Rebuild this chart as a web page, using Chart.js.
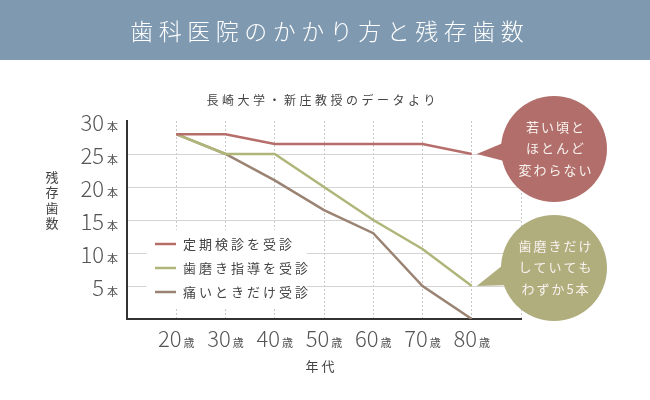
<!DOCTYPE html>
<html>
<head>
<meta charset="utf-8">
<script src="https://cdn.jsdelivr.net/npm/chart.js@4"></script>
<style>
  html, body { margin: 0; padding: 0; background: #fff; }
  canvas { display: block; }
</style>
</head>
<body>
<canvas id="chart" width="650" height="400"></canvas>
<script>
// data (長崎大学・新庄教授のデータ)
const ages = [20, 30, 40, 50, 60, 70, 80];
const regularCheckup = [28, 28, 26.5, 26.5, 26.5, 26.5, 25];
const brushingGuide = [28, 25, 25, 20, 15, 10.6, 5];
const onlyWhenPain = [28, 25, 21, 16.5, 13, 5, 0];
const seriesNames = ['定期検診を受診', '歯磨き指導を受診', '痛いときだけ受診'];
const seriesColors = ['#b66e6a', '#b0b679', '#9a8372'];
const yTicks = [5, 10, 15, 20, 25, 30];

const JP = '"Noto Sans CJK JP", "Noto Sans", sans-serif';

// draw text one char at a time so we get letter spacing
function spaced(ctx, str, x, y, gap, align) {
  const chars = Array.from(str);
  let total = 0;
  chars.forEach(c => total += ctx.measureText(c).width);
  total += gap * (chars.length - 1);
  let cx = align === 'center' ? x - total / 2 : align === 'right' ? x - total : x;
  ctx.textAlign = 'left';
  chars.forEach(c => {
    ctx.fillText(c, cx, y);
    cx += ctx.measureText(c).width + gap;
  });
}

const decorations = {
  id: 'decorations',
  beforeDatasetsDraw(chart) {
    const ctx = chart.ctx;
    const x = chart.scales.x, y = chart.scales.y;
    // white box behind the legend hides the grid
    ctx.save();
    ctx.fillStyle = '#fff';
    ctx.fillRect(x.getPixelForValue(14), y.getPixelForValue(13.5), 160, 78);
    ctx.restore();
  },
  afterDraw(chart) {
    const ctx = chart.ctx;
    const xs = chart.scales.x, ys = chart.scales.y;
    ctx.save();

    // header band
    ctx.fillStyle = '#7f99b1';
    ctx.fillRect(0, 0, 650, 60);
    ctx.fillStyle = '#fff';
    ctx.font = '300 23px ' + JP;
    ctx.textBaseline = 'middle';
    spaced(ctx, '歯科医院のかかり方と残存歯数', 327, 31, 5.5, 'center');

    // subtitle
    ctx.fillStyle = '#444';
    ctx.font = '12px ' + JP;
    spaced(ctx, '長崎大学・新庄教授のデータより', 321, 100, 3.5, 'center');

    // y axis title, stacked vertically
    ctx.font = '13px ' + JP;
    ctx.fillStyle = '#444';
    Array.from('残存歯数').forEach((c, i) => {
      ctx.textAlign = 'center';
      ctx.fillText(c, 52, 177 + i * 15.5);
    });

    // y tick labels: big number + small 本
    ctx.textBaseline = 'alphabetic';
    ctx.fillStyle = '#555';
    yTicks.forEach(v => {
      const py = ys.getPixelForValue(v) + 10;
      ctx.font = '11px ' + JP;
      ctx.textAlign = 'right';
      ctx.fillText('本', 118, py);
      ctx.font = '300 22px ' + JP;
      ctx.fillText(String(v), 104, py);
    });

    // x tick labels: number + small 歳
    ages.forEach(a => {
      const px = xs.getPixelForValue(a);
      ctx.font = '300 22px ' + JP;
      const nw = ctx.measureText(String(a)).width;
      ctx.font = '11px ' + JP;
      const sw = ctx.measureText('歳').width;
      const left = px - (nw + 2 + sw) / 2;
      ctx.textAlign = 'left';
      ctx.font = '300 22px ' + JP;
      ctx.fillText(String(a), left, 347);
      ctx.font = '11px ' + JP;
      ctx.fillText('歳', left + nw + 2, 347);
    });

    // x axis title
    ctx.fillStyle = '#444';
    ctx.font = '13px ' + JP;
    ctx.textBaseline = 'middle';
    spaced(ctx, '年代', 320, 366, 3, 'center');

    // legend inside the plot
    chart.data.datasets.forEach((ds, i) => {
      const ly = 244 + i * 24;
      ctx.strokeStyle = ds.borderColor;
      ctx.lineWidth = 2.5;
      ctx.beginPath();
      ctx.moveTo(155, ly);
      ctx.lineTo(176, ly);
      ctx.stroke();
      ctx.fillStyle = '#444';
      ctx.font = '13px ' + JP;
      spaced(ctx, ds.label, 183, ly, 3, 'left');
    });

    // speech bubbles pointing at the 80-year values
    const bubble = (tipX, tipY, cx, cy, b1, b2, color, lines) => {
      ctx.fillStyle = color;
      ctx.beginPath();
      ctx.arc(cx, cy, 53, 0, Math.PI * 2);
      ctx.fill();
      ctx.beginPath();
      ctx.moveTo(tipX, tipY);
      ctx.lineTo(b1[0], b1[1]);
      ctx.lineTo(b2[0], b2[1]);
      ctx.closePath();
      ctx.fill();
      ctx.fillStyle = '#f7f2ee';
      ctx.font = '13px ' + JP;
      ctx.textBaseline = 'middle';
      lines.forEach((t, i) => spaced(ctx, t, cx + 1, cy - 22 + i * 21.5, 2, 'center'));
    };
    const tipX = xs.getPixelForValue(80) + 5;
    bubble(tipX, ys.getPixelForValue(regularCheckup[6]), 554, 149,
      [503, 143], [508, 162], '#b26e6a', ['若い頃と', 'ほとんど', '変わらない']);
    bubble(tipX, ys.getPixelForValue(brushingGuide[6]), 554, 268,
      [503, 265], [512, 285], '#b1ae7e', ['歯磨きだけ', 'していても', 'わずか5本']);

    ctx.restore();
  }
};

function toPoints(values) {
  return ages.map((a, i) => ({ x: a, y: values[i] }));
}

const chart = new Chart(document.getElementById('chart'), {
  type: 'line',
  data: {
    datasets: [regularCheckup, brushingGuide, onlyWhenPain].map((vals, i) => ({
      label: seriesNames[i],
      data: toPoints(vals),
      borderColor: seriesColors[i],
      borderWidth: 2.5,
      pointRadius: 0,
      tension: 0,
      fill: false
    }))
  },
  options: {
    responsive: false,
    animation: false,
    devicePixelRatio: 1,
    layout: { padding: { left: 127, right: 129, top: 121, bottom: 81 } },
    plugins: { legend: { display: false }, tooltip: { enabled: false } },
    scales: {
      x: {
        type: 'linear',
        min: 10,
        max: 90,
        afterFit: s => { s.height = 0; },
        ticks: { display: false, stepSize: 10 },
        grid: {
          drawTicks: false,
          color: c => c.tick && c.tick.value === 10 ? 'rgba(0,0,0,0)' : '#c9c9c9',
          lineWidth: 1
        },
        border: { display: true, color: '#333', width: 2, dash: [2, 2] }
      },
      y: {
        min: 0,
        max: 30,
        afterFit: s => { s.width = 0; },
        ticks: { display: false, stepSize: 5 },
        grid: {
          drawTicks: false,
          color: c => c.tick && (c.tick.value === 30 || c.tick.value === 0) ? 'rgba(0,0,0,0)' : '#d4d4d4',
          lineWidth: 1
        },
        border: { display: true, color: '#333', width: 2 }
      }
    }
  },
  plugins: [decorations]
});
</script>
</body>
</html>
